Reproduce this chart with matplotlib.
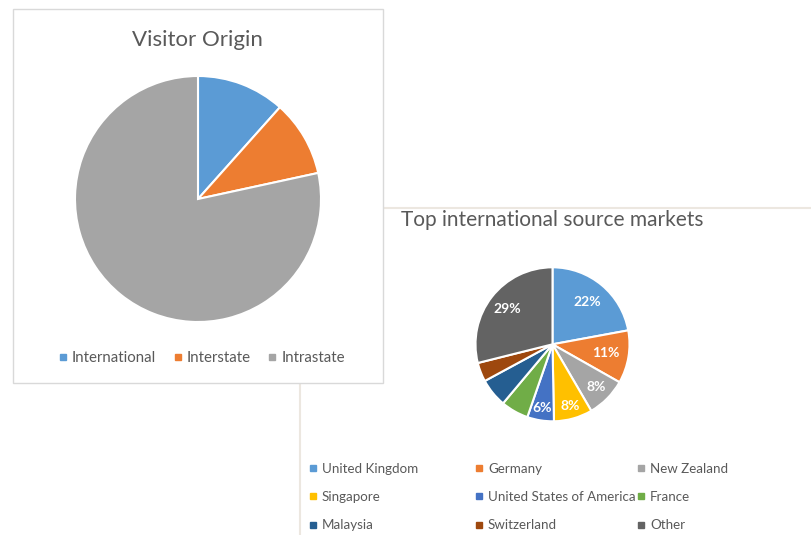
import matplotlib
matplotlib.use("Agg")
import matplotlib.pyplot as plt
from matplotlib.patches import Rectangle
from matplotlib.lines import Line2D
import numpy as np

plt.rcParams['font.family'] = ['Lato', 'DejaVu Sans']

# ---- data ----
origin_labels = ["International", "Interstate", "Intrastate"]
origin_values = [11.6, 10.0, 78.4]
origin_colors = ["#5B9BD5", "#ED7D31", "#A5A5A5"]

market_labels = ["United Kingdom", "Germany", "New Zealand", "Singapore",
                 "United States of America", "France", "Malaysia",
                 "Switzerland", "Other"]
market_values = [22.1, 11.1, 8.4, 8.1, 5.6, 5.8, 6.0, 4.0, 28.9]
market_colors = ["#5B9BD5", "#ED7D31", "#A5A5A5", "#FFC000", "#4472C4",
                 "#70AD47", "#255E91", "#9E480E", "#636363"]
market_show_label = [True, True, True, True, True, False, False, False, True]
market_label_dist = [0.71, 0.70, 0.79, 0.83, 0.84, 0.8, 0.8, 0.8, 0.74]

W, H = 811, 535
TXT = "#595959"
fig = plt.figure(figsize=(W / 100, H / 100), dpi=100)
fig.patch.set_facecolor("white")

def fx(x):
    return x / W

def fy(y):
    return 1 - y / H

# background axes in pixel coordinates for chart frames
bg = fig.add_axes([0, 0, 1, 1])
bg.set_xlim(0, W)
bg.set_ylim(H, 0)
bg.axis("off")
bg.add_patch(Rectangle((300, 208), 520, 340, facecolor="white",
                       edgecolor="#ECE7E0", linewidth=1.5))
bg.add_patch(Rectangle((12.5, 8.5), 370.5, 374, facecolor="white",
                       edgecolor="#D9D9D9", linewidth=1.0, zorder=3))

def pie_axes(cx, cy, r, pad=1.03):
    s = r * pad
    ax = fig.add_axes([fx(cx - s), fy(cy + s), 2 * s / W, 2 * s / H])
    return ax, pad

# ---- left pie ----
ax1, p1 = pie_axes(198, 199, 123)
ax1.pie(origin_values, colors=origin_colors, startangle=90, counterclock=False,
        wedgeprops=dict(edgecolor="white", linewidth=1.5))
ax1.set_xlim(-p1, p1)
ax1.set_ylim(-p1, p1)
ax1.set_aspect("equal")
ax1.axis("off")

fig.text(fx(197), fy(46.5), "Visitor Origin", ha="center", va="baseline",
         fontsize=16, color=TXT)

h1 = [Line2D([], [], marker="s", linestyle="none", markersize=5, color=c)
      for c in origin_colors]
fig.legend(h1, origin_labels, loc="center left",
           bbox_to_anchor=(fx(58), fy(358.5)), ncol=3, frameon=False,
           fontsize=10.8, labelcolor=TXT, handlelength=0.6, handletextpad=0.3,
           columnspacing=1.15, borderpad=0, borderaxespad=0)

# ---- right pie ----
ax2, p2 = pie_axes(552.5, 344.3, 77)
wedges, _ = ax2.pie(market_values, colors=market_colors, startangle=90,
                    counterclock=False,
                    wedgeprops=dict(edgecolor="white", linewidth=1.5))
ax2.set_xlim(-p2, p2)
ax2.set_ylim(-p2, p2)
ax2.set_aspect("equal")
ax2.axis("off")
total = sum(market_values)
for w, v, show, d in zip(wedges, market_values, market_show_label, market_label_dist):
    if not show:
        continue
    th = np.deg2rad((w.theta1 + w.theta2) / 2)
    ax2.text(d * np.cos(th), d * np.sin(th), f"{round(v / total * 100):.0f}%",
             ha="center", va="center", color="white", fontsize=10,
             fontweight="bold")

fig.text(fx(401), fy(226), "Top international source markets", ha="left",
         va="baseline", fontsize=15.0, color=TXT)

col_x = [308, 474, 636]
for j in range(3):
    idx = [j, j + 3, j + 6]
    hs = [Line2D([], [], marker="s", linestyle="none", markersize=5,
                 color=market_colors[i]) for i in idx]
    fig.legend(hs, [market_labels[i] for i in idx], loc="upper left",
               bbox_to_anchor=(fx(col_x[j]), fy(463)), ncol=1, frameon=False,
               fontsize=9.6, labelcolor=TXT, handlelength=0.75,
               handletextpad=0.3, labelspacing=1.21, borderpad=0,
               borderaxespad=0)

fig.savefig("out.png", dpi=100, facecolor="white")
